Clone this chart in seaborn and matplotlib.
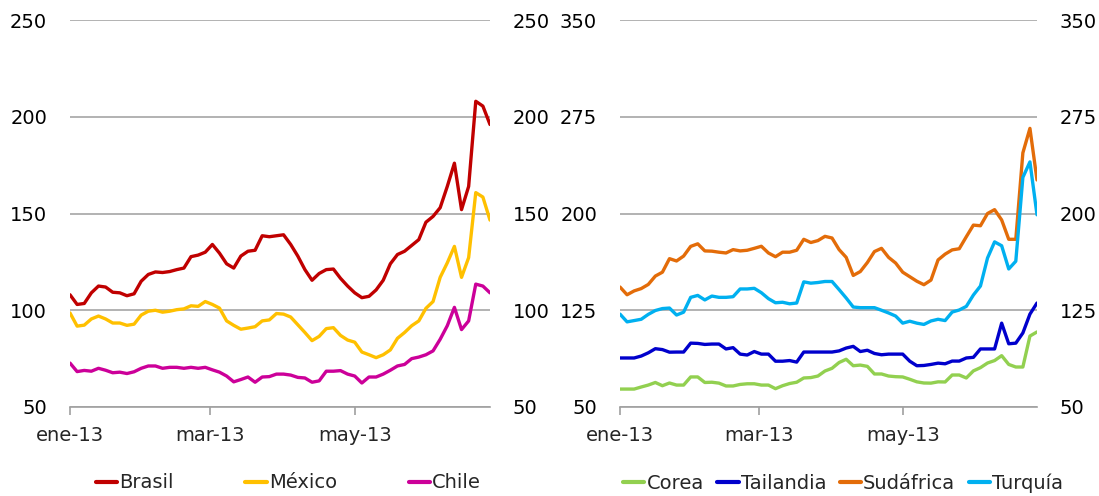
import matplotlib
matplotlib.use("Agg")
import matplotlib.pyplot as plt
import seaborn as sns
import numpy as np
import pandas as pd

# fechas: cada 3 dias desde el 1 de enero de 2013
dates = pd.date_range("2013-01-01", "2013-06-27", freq="3D")

brasil = [108, 103, 103.5, 109, 112.5, 112, 109.3, 109, 107.5, 108.5,
          115, 118.5, 119.8, 119.5, 120, 121, 121.8, 127.7, 128.5, 130,
          134, 129.5, 124, 121.8, 128, 130.5, 131, 138.5, 138, 138.5,
          139, 134, 128, 121, 115.5, 119, 121, 121.3, 116.5, 112.5,
          109, 106.5, 107.2, 110.5, 115.5, 124, 128.8, 130.5, 133.5, 136.5,
          145.5, 148.5, 153, 164, 176, 152, 164, 208, 205.5, 196]
mexico = [98.6, 91.8, 92.3, 95.5, 97, 95.5, 93.4, 93.4, 92.2, 92.8,
          97.5, 99.5, 100, 99, 99.5, 100.3, 100.7, 102.3, 102, 104.5,
          103, 101.1, 94.5, 92.2, 90.2, 90.8, 91.5, 94.5, 95, 98.3,
          98, 96.5, 92.5, 88.5, 84.3, 86.5, 90.5, 91, 87, 84.6,
          83.5, 78.4, 77, 75.5, 77, 79.5, 85.5, 88.5, 92, 94.5,
          101, 104.5, 117, 124.5, 133, 117, 127.2, 160.8, 158.5, 146.6]
chile = [72.7, 68.3, 68.9, 68.5, 70, 69, 67.7, 68, 67.3, 68.2,
         70, 71.2, 71.2, 70, 70.5, 70.5, 70, 70.5, 70, 70.5,
         69.2, 68, 66, 63, 64.2, 65.5, 62.8, 65.5, 65.7, 67,
         67, 66.5, 65.3, 65, 62.8, 63.5, 68.5, 68.5, 68.8, 67,
         66, 62.4, 65.5, 65.5, 67, 69, 71.2, 72, 75, 75.8,
         77, 79, 85, 92, 101.5, 90, 94.5, 113.5, 112.5, 109]

corea = [63.9, 63.9, 63.9, 65.5, 67, 69, 66.5, 68.6, 67, 67,
         73.3, 73.3, 69, 69.2, 68.5, 66.3, 66.3, 67.5, 68, 68,
         67, 67, 64.2, 66.5, 68.2, 69.2, 72.5, 72.8, 74, 77.9,
         80, 84.5, 87, 82, 82.5, 81.5, 75.6, 75.6, 74, 73.5,
         73.3, 71.5, 69.5, 68.6, 68.5, 69.5, 69.4, 74.8, 74.8, 72.5,
         78, 80.5, 84.1, 86, 89.8, 83, 81, 81, 105, 108.2]
tailandia = [88, 88, 88, 89.5, 92, 95.2, 94.5, 92.5, 92.6, 92.6,
             99.5, 99.3, 98.5, 98.8, 98.8, 95, 96, 91, 90.3, 93,
             91, 91, 85.5, 85.5, 86, 84.8, 92.6, 92.6, 92.6, 92.6,
             92.6, 93.5, 95.7, 97, 93, 94, 91.5, 90.5, 91, 91,
             91, 85.5, 82, 82.2, 83, 84, 83.5, 85.6, 85.6, 88,
             88.5, 95, 95, 95, 115, 99, 99.5, 107.4, 122, 130.6]
sudafrica = [143, 137, 140, 141.8, 145, 151.5, 154.5, 165, 163.2, 167,
             174.5, 176.5, 171, 170.8, 170, 169.4, 172, 171, 171.5, 173,
             174.6, 169.4, 166.5, 170, 170, 171.5, 180, 177.5, 179, 182.3,
             181, 172, 166, 152, 155, 162, 170.5, 173, 166, 161.6,
             154.5, 151, 147.5, 144.8, 148.4, 164, 168.5, 171.8, 172.7, 182,
             191, 190.5, 200, 203, 195, 180, 180, 247, 266, 226]
turquia = [122, 116, 117, 118, 121.8, 124.8, 126.3, 126.7, 121.3, 123.5,
           135, 136.5, 133, 136, 135, 135, 135.5, 141.5, 141.5, 142,
           138.6, 134, 130.8, 131.2, 130, 130.6, 147, 146, 146.5, 147.3,
           147.3, 141, 134.5, 127.5, 127, 127, 127, 125, 122.9, 120.5,
           115, 116.5, 115, 114, 116.7, 118, 117, 123.6, 125.2, 128,
           136.8, 143.8, 165.5, 178, 175, 157, 163, 228, 240, 199]

left_series = {"Brasil": brasil, "México": mexico, "Chile": chile}
right_series = {"Corea": corea, "Tailandia": tailandia,
                "Sudáfrica": sudafrica, "Turquía": turquia}
left_colors = ["#C00000", "#FFC000", "#CC0099"]
right_colors = ["#92D050", "#0000CC", "#E36C09", "#00B0F0"]

left_ticks = [50, 100, 150, 200, 250]
right_ticks = [50, 125, 200, 275, 350]
x_ticks = pd.to_datetime(["2013-01-01", "2013-03-01", "2013-05-01"])
x_labels = ["ene-13", "mar-13", "may-13"]


def to_long(series):
    frames = [pd.DataFrame({"fecha": dates, "valor": v, "pais": k})
              for k, v in series.items()]
    return pd.concat(frames, ignore_index=True)


sns.set_style("white")
plt.rcParams["font.family"] = ["DejaVu Sans"]

fig = plt.figure(figsize=(10.99, 4.96), dpi=100)
ax1 = fig.add_axes([70 / 1099, 89 / 496, 420 / 1099, 387 / 496])
ax2 = fig.add_axes([620 / 1099, 89 / 496, 417 / 1099, 387 / 496])


def style_axis(ax, ticks):
    ax.set_ylim(ticks[0], ticks[-1])
    ax.set_yticks(ticks)
    ax.set_xlim(dates[0], dates[-1])
    ax.set_xticks(x_ticks)
    ax.set_xticklabels(x_labels)
    ax.set_xlabel("")
    ax.set_ylabel("")
    for side in ["left", "right", "top"]:
        ax.spines[side].set_visible(False)
    ax.spines["bottom"].set_color("#a0a0a0")
    ax.spines["bottom"].set_linewidth(1.2)
    ax.grid(axis="y", color="#a6a6a6", linewidth=1.2)
    ax.set_axisbelow(True)
    ax.tick_params(axis="y", which="both", left=False, right=False,
                   labelleft=True, labelright=True, labelsize=14, pad=13,
                   colors="black")
    ax.tick_params(axis="x", bottom=True, direction="out", length=6,
                   color="#a0a0a0", width=1.2, labelsize=14, pad=8)


for ax, series, colors, ticks in [(ax1, left_series, left_colors, left_ticks),
                                  (ax2, right_series, right_colors, right_ticks)]:
    sns.lineplot(data=to_long(series), x="fecha", y="valor", hue="pais",
                 palette=colors, linewidth=2.4, ax=ax)
    style_axis(ax, ticks)

leg1 = ax1.legend(loc="center", bbox_to_anchor=(0.52, -0.196), ncol=3,
                  frameon=False, fontsize=14, handlelength=1.1,
                  handletextpad=0.1, columnspacing=3.7)
leg2 = ax2.legend(loc="center", bbox_to_anchor=(0.535, -0.196), ncol=4,
                  frameon=False, fontsize=14, handlelength=1.1,
                  handletextpad=0.1, columnspacing=0.7)
for leg in (leg1, leg2):
    for line in leg.get_lines():
        line.set_linewidth(3)

fig.savefig("out.png", dpi=100)
